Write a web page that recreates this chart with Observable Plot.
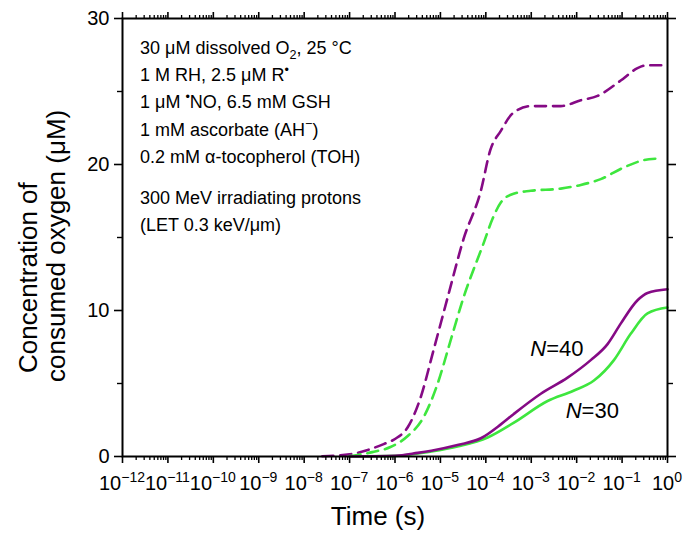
<!DOCTYPE html>
<html>
<head>
<meta charset="utf-8">
<script src="https://cdn.jsdelivr.net/npm/d3@7"></script>
<script src="https://cdn.jsdelivr.net/npm/@observablehq/plot@0.6"></script>
<style>
  body { margin: 0; background: #fff; }
</style>
</head>
<body>
<div id="chart"></div>
<script>
// time given as log10(t / s), consumed O2 in µM
const dash40Exp = [-7.6, -7.0, -6.6, -6.25, -6.0, -5.72, -5.44, -5.15, -4.84, -4.49, -4.11, -3.9, -3.67, -3.41, -3.01, -2.35, -1.91, -1.54, -1.03, -0.66, -0.44, 0]
const dash40Val = [0.02, 0.15, 0.45, 0.85, 1.2, 2.0, 4.0, 7.3, 10.9, 14.9, 18.2, 21.0, 22.3, 23.5, 24.0, 24.0, 24.4, 24.7, 25.75, 26.6, 26.8, 26.8]

const dash30Exp = [-7.0, -6.5, -6.1, -5.72, -5.37, -5.06, -4.78, -4.49, -4.05, -3.85, -3.67, -3.39, -3.01, -2.35, -1.91, -1.47, -0.96, -0.52, -0.26]
const dash30Val = [0.03, 0.3, 0.65, 1.4, 2.7, 5.0, 7.9, 10.9, 14.6, 16.3, 17.4, 18.0, 18.2, 18.35, 18.6, 19.0, 19.8, 20.3, 20.4]

const solid40Exp = [-7.0, -6.0, -5.5, -5.2, -4.6, -4.11, -3.67, -3.39, -2.79, -2.2, -1.69, -1.32, -1.03, -0.66, -0.44, 0]
const solid40Val = [0.0, 0.05, 0.25, 0.4, 0.8, 1.25, 2.2, 2.9, 4.3, 5.4, 6.6, 7.7, 9.1, 10.7, 11.2, 11.45]

const solid30Exp = [-7.0, -6.0, -5.2, -4.6, -3.96, -3.39, -2.64, -2.07, -1.62, -1.18, -0.81, -0.44, 0]
const solid30Val = [0.0, 0.04, 0.34, 0.7, 1.3, 2.3, 3.8, 4.5, 5.2, 6.6, 8.4, 9.8, 10.2]

const xMajorExp = d3.range(-12, 1)
const yMajor = [0, 10, 20, 30]
const yMinor = [5, 15, 25]

const conditions1 = [
  "30 μM dissolved O_{2}, 25 °C",
  "1 M RH, 2.5 μM R^{•}",
  "1 μM ^{•}NO, 6.5 mM GSH",
  "1 mM ascorbate (AH^{−})",
  "0.2 mM α-tocopherol (TOH)"
]
const conditions2 = [
  "300 MeV irradiating protons",
  "(LET 0.3 keV/μm)"
]
const curveLabels = [
  {exp: -2.66, v: 7.4, num: "=40"},
  {exp: -1.88, v: 3.15, num: "=30"}
]

const purple = "#850a85"
const green = "#3ee63e"
const font = "'Liberation Sans', Arial, sans-serif"

const toRows = (ex, vals) => ex.map((e, i) => ({t: 10 ** e, v: vals[i]}))
const xMajor = xMajorExp.map(e => 10 ** e)
const xMinor = xMajorExp.slice(0, -1).flatMap(e => d3.range(2, 10).map(k => k * 10 ** e))

// write a line with _{sub} and ^{sup} pieces as tspans
function richLine(textSel, str, size) {
  const parts = str.split(/(_\{[^}]*\}|\^\{[^}]*\})/).filter(s => s !== "")
  let shift = 0
  for (const p of parts) {
    let dy = 0, fs = size, txt = p
    if (p.startsWith("_{")) { dy = size * 0.3; fs = size * 0.7; txt = p.slice(2, -1) }
    else if (p.startsWith("^{")) { dy = -size * 0.4; fs = size * 0.7; txt = p.slice(2, -1) }
    textSel.append("tspan").attr("dy", dy - shift).attr("font-size", fs).text(txt)
    shift = dy
  }
}

function xTickLabels(index, scales, values, dims) {
  const g = d3.create("svg:g").attr("font-family", font).attr("fill", "black")
  const y0 = dims.height - dims.marginBottom + 34
  for (const e of xMajorExp) {
    const t = g.append("text").attr("x", scales.x(10 ** e)).attr("y", y0)
      .attr("text-anchor", "middle").attr("font-size", 20)
    t.append("tspan").text("10")
    t.append("tspan").attr("dy", -8).attr("font-size", 14).text(e === 0 ? "0" : "−" + (-e))
  }
  return g.node()
}

function textBlocks(index, scales, values, dims) {
  const g = d3.create("svg:g").attr("font-family", font).attr("fill", "black")
    .attr("text-anchor", "start")
  const x0 = dims.marginLeft + 18
  conditions1.forEach((s, i) => {
    richLine(g.append("text").attr("x", x0).attr("y", dims.marginTop + 36 + i * 27.2), s, 18)
  })
  conditions2.forEach((s, i) => {
    richLine(g.append("text").attr("x", x0).attr("y", dims.marginTop + 186 + i * 27.2), s, 18)
  })
  for (const d of curveLabels) {
    const x = scales.x(10 ** d.exp), y = scales.y(d.v)
    g.append("text").attr("x", x).attr("y", y + 8).attr("text-anchor", "end")
      .attr("font-size", 22).attr("font-style", "italic").text("N")
    g.append("text").attr("x", x).attr("y", y + 8).attr("font-size", 22).text(d.num)
  }
  // axis titles
  g.append("text").attr("x", 378).attr("y", dims.height - 14).attr("text-anchor", "middle")
    .attr("font-size", 26).text("Time (s)")
  g.append("text").attr("transform", "translate(37,373) rotate(-90)").attr("font-size", 26)
    .text("Concentration of")
  g.append("text").attr("transform", "translate(65,382) rotate(-90)").attr("font-size", 26)
    .text("consumed oxygen (μM)")
  return g.node()
}

const lineOpts = {x: "t", y: "v", strokeWidth: 2.6, curve: "monotone-x"}
const blank = () => ""

const chart = Plot.plot({
  width: 690,
  height: 539,
  marginLeft: 122,
  marginRight: 23,
  marginTop: 18,
  marginBottom: 83,
  style: {fontFamily: font, fontSize: "19px", color: "black", background: "white"},
  x: {type: "log", domain: [1e-12, 1]},
  y: {domain: [0, 30]},
  marks: [
    Plot.line(toRows(dash40Exp, dash40Val), {...lineOpts, stroke: purple, strokeDasharray: "11,7"}),
    Plot.line(toRows(dash30Exp, dash30Val), {...lineOpts, stroke: green, strokeDasharray: "11,7"}),
    Plot.line(toRows(solid30Exp, solid30Val), {...lineOpts, stroke: green}),
    Plot.line(toRows(solid40Exp, solid40Val), {...lineOpts, stroke: purple}),
    Plot.axisX({ticks: xMajor, anchor: "bottom", tickSize: 7, strokeWidth: 1.6, tickFormat: blank, label: null}),
    Plot.axisX({ticks: xMinor, anchor: "bottom", tickSize: 4, strokeWidth: 1.3, tickFormat: blank, label: null}),
    Plot.axisX({ticks: xMajor, anchor: "top", tickSize: 7, strokeWidth: 1.6, tickFormat: blank, label: null}),
    Plot.axisX({ticks: xMinor, anchor: "top", tickSize: 4, strokeWidth: 1.3, tickFormat: blank, label: null}),
    Plot.axisY({ticks: yMajor, anchor: "left", tickSize: 8, tickPadding: 5, strokeWidth: 1.6, fontSize: 20, label: null}),
    Plot.axisY({ticks: yMinor, anchor: "left", tickSize: 5, strokeWidth: 1.4, tickFormat: blank, label: null}),
    Plot.axisY({ticks: yMajor, anchor: "right", tickSize: 8, strokeWidth: 1.6, tickFormat: blank, label: null}),
    Plot.axisY({ticks: yMinor, anchor: "right", tickSize: 5, strokeWidth: 1.4, tickFormat: blank, label: null}),
    Plot.frame({stroke: "black", strokeWidth: 2}),
    xTickLabels,
    textBlocks
  ]
})
document.getElementById("chart").append(chart)
</script>
</body>
</html>
